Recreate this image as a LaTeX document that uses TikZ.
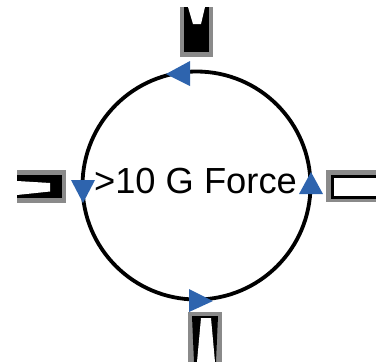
\documentclass[tikz,border=0pt]{standalone}
\usepackage{fontspec}
\setmainfont{Liberation Sans}
\definecolor{arrowblue}{HTML}{2E64AE}
\definecolor{framegray}{HTML}{8A8A8A}
\tikzset{
  ring/.style={draw=black,line width=3.8pt},
  tri/.style={fill=arrowblue,draw=none},
  frameg/.style={fill=framegray,draw=none},
  inkb/.style={fill=black,draw=none},
  hollow/.style={fill=white,draw=none}
}
\begin{document}
\begin{tikzpicture}[x=1pt,y=-1pt]
\useasboundingbox (0,0) rectangle (376,362);
% ring
\draw[ring] (196.5,185.5) circle [radius=114];
% top part
\fill[frameg] (180,7) rectangle (213,57);
\fill[inkb] (184,7) rectangle (209,52);
\fill[hollow] (188,7) -- (205,7) -- (201,24) -- (193,24) -- cycle;
% bottom part
\fill[frameg] (188,312) rectangle (222,362);
\fill[inkb] (192,316) -- (218,316) -- (216,362) -- (194,362) -- cycle;
\fill[hollow] (201,318) -- (211,318) -- (215,362) -- (197,362) -- cycle;
% left part
\fill[frameg] (17,170) rectangle (66,203);
\fill[inkb] (17,174.5) rectangle (61.5,198);
\fill[hollow] (17,181) -- (50,183) -- (50,191.5) -- (17,195) -- cycle;
% right part
\fill[frameg] (326,170) rectangle (376,202);
\fill[inkb] (331,175) rectangle (376,199);
\fill[hollow] (334,177.5) rectangle (376,196);
% arrowheads
\fill[tri] (166,74) -- (190,61) -- (190,86) -- cycle;
\fill[tri] (213,301) -- (189,289) -- (189,312) -- cycle;
\fill[tri] (83,203) -- (71,180) -- (95,180) -- cycle;
\fill[tri] (311,172) -- (299,194) -- (323,194) -- cycle;
% label
\node[inner sep=0pt,font=\fontsize{36.3pt}{40pt}\selectfont] (label) at (195.5,181.5) {>10 G Force};
\end{tikzpicture}
\end{document}
